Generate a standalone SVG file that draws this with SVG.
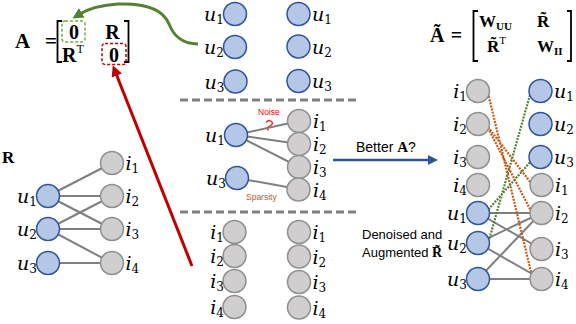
<svg xmlns="http://www.w3.org/2000/svg" width="576" height="324" viewBox="0 0 576 324">
<style>
.u{fill:#b4c7e7;stroke:#2f5597;stroke-width:1.5}
.it{fill:#d0cece;stroke:#8f8f8f;stroke-width:1.5}
.m{font-family:"DejaVu Serif","Liberation Serif",serif;font-style:italic;font-size:19px;fill:#000}
.sub{font-size:12px;font-style:normal}
.bs{font-family:"Liberation Serif",serif;font-weight:bold;fill:#000}
.e{stroke:#7f7f7f;stroke-width:2;fill:none}
.sep{stroke:#7f7f7f;stroke-width:3;stroke-dasharray:8 4;fill:none}
.od{stroke:#c55a11;stroke-width:2.2;stroke-dasharray:2 1.2;fill:none}
.gd{stroke:#548235;stroke-width:2.2;stroke-dasharray:2 1.2;fill:none}
.sans{font-family:"Liberation Sans",Arial,sans-serif;fill:#000}
.br{stroke:#000;stroke-width:1.8;fill:none}
</style>
<defs>
<marker id="ag" viewBox="0 0 10 10" refX="3" refY="5" markerWidth="11" markerHeight="11" markerUnits="userSpaceOnUse" orient="auto"><path d="M0,0 L10,5 L0,10 z" fill="#548235"/></marker>
<marker id="ar" viewBox="0 0 10 10" refX="3" refY="5" markerWidth="11" markerHeight="11" markerUnits="userSpaceOnUse" orient="auto"><path d="M0,0 L10,5 L0,10 z" fill="#c00000"/></marker>
<marker id="ab" viewBox="0 0 10 10" refX="3" refY="5" markerWidth="10" markerHeight="10" markerUnits="userSpaceOnUse" orient="auto"><path d="M0,0 L10,5 L0,10 z" fill="#2f5597"/></marker>
</defs>

<!-- Matrix A -->
<g id="matrixA">
<text class="bs" x="15" y="48" font-size="21">A</text>
<text class="bs" x="51" y="48" font-size="21" text-anchor="middle">=</text>
<path class="br" d="M62,21 H57.5 V62 H62"/>
<path class="br" d="M124,21 H128.5 V62 H124"/>
<text class="bs" x="74" y="39" font-size="20" text-anchor="middle">0</text>
<text class="bs" x="112.5" y="39" font-size="20" text-anchor="middle">R</text>
<text class="bs" x="62" y="61.5" font-size="20">R<tspan font-size="12" font-weight="normal" dy="-9">T</tspan></text>
<text class="bs" x="114" y="61.5" font-size="20" text-anchor="middle">0</text>
<rect x="62" y="21" width="23" height="21" rx="3" fill="none" stroke="#70ad47" stroke-width="1.5" stroke-dasharray="3 2"/>
<rect x="102" y="43.5" width="24" height="21" rx="3" fill="none" stroke="#c00000" stroke-width="1.5" stroke-dasharray="3 2"/>
</g>

<!-- Matrix A tilde -->
<g id="matrixAt">
<text class="bs" x="430" y="42" font-size="20">Ã</text>
<text class="bs" x="456.5" y="42" font-size="20" text-anchor="middle">=</text>
<path class="br" d="M478,11 H473.5 V61 H478"/>
<path class="br" d="M567,11 H571 V61 H567"/>
<text class="bs" x="479" y="27" font-size="17">W<tspan font-size="11" dy="3">UU</tspan></text>
<text class="bs" x="537" y="27" font-size="17">R̃</text>
<text class="bs" x="487" y="52" font-size="17">R̃<tspan font-size="11" font-weight="normal" dy="-8">T</tspan></text>
<text class="bs" x="537" y="52" font-size="17">W<tspan font-size="11" dy="3">II</tspan></text>
</g>

<text class="bs" x="2" y="163" font-size="17">R</text>

<!-- connectors -->
<g id="connectors">
<path class="sep" d="M180,100 H356"/>
<path class="sep" d="M180,212 H356"/>
<path class="e" d="M48,196 L112,163 M48,196 L112,196 M48,196 L112,229 M48,229 L112,196 M48,229 L112,229 M48,229 L112,263 M48,263 L112,263"/>
<path class="e" d="M236,135 L299,121 M236,135 L299,144 M236,135 L299,167 M237,178 L298,189"/>
<path class="e" d="M478,213 L541,213 M478,213 L541,249 M478,243 L541,213 M478,243 L541,279 M478,279 L541,213 M478,279 L541,279"/>
<path class="od" d="M488,93 L532,276 M488,127 L531,183 M488,128 L531,211"/>
<path class="gd" d="M530,95 L489,240 M532,160 L488,210"/>
<path d="M198,44 C180,44 173,34 169,24 C163,9 145,3 118,4 C100,5 88,9 79,14.5" fill="none" stroke="#548235" stroke-width="3" marker-end="url(#ag)"/>
<path d="M192,266 L115.6,72.5" fill="none" stroke="#c00000" stroke-width="3" marker-end="url(#ar)"/>
<path d="M333,160 L431,160" fill="none" stroke="#2f5597" stroke-width="2.5" marker-end="url(#ab)"/>
</g>

<!-- top middle users -->
<g id="tl_u1"><circle class="u" cx="235" cy="14" r="11.5"/><text class="m" x="224" y="21" text-anchor="end">u<tspan class="sub" dy="3">1</tspan></text></g>
<g id="tl_u2"><circle class="u" cx="235" cy="47" r="11.5"/><text class="m" x="224" y="54" text-anchor="end">u<tspan class="sub" dy="3">2</tspan></text></g>
<g id="tl_u3"><circle class="u" cx="235.5" cy="81.5" r="11.5"/><text class="m" x="224.5" y="88.5" text-anchor="end">u<tspan class="sub" dy="3">3</tspan></text></g>
<g id="tr_u1"><circle class="u" cx="298.5" cy="14" r="11.5"/><text class="m" x="312" y="21">u<tspan class="sub" dy="3">1</tspan></text></g>
<g id="tr_u2"><circle class="u" cx="298.5" cy="46.5" r="11.5"/><text class="m" x="312" y="53.5">u<tspan class="sub" dy="3">2</tspan></text></g>
<g id="tr_u3"><circle class="u" cx="298.5" cy="81" r="11.5"/><text class="m" x="312" y="88">u<tspan class="sub" dy="3">3</tspan></text></g>

<!-- middle graph -->
<g id="m_u1"><circle class="u" cx="236" cy="135" r="11.5"/><text class="m" x="225" y="142" text-anchor="end">u<tspan class="sub" dy="3">1</tspan></text></g>
<g id="m_u3"><circle class="u" cx="237" cy="178" r="11.5"/><text class="m" x="226" y="185" text-anchor="end">u<tspan class="sub" dy="3">3</tspan></text></g>
<g id="m_i1"><circle class="it" cx="299" cy="121" r="11.5"/><text class="m" x="313" y="128">i<tspan class="sub" dy="3">1</tspan></text></g>
<g id="m_i2"><circle class="it" cx="299" cy="144" r="11.5"/><text class="m" x="313" y="151">i<tspan class="sub" dy="3">2</tspan></text></g>
<g id="m_i3"><circle class="it" cx="299" cy="167" r="11.5"/><text class="m" x="313" y="174">i<tspan class="sub" dy="3">3</tspan></text></g>
<g id="m_i4"><circle class="it" cx="298.5" cy="189.5" r="11.5"/><text class="m" x="313" y="196.5">i<tspan class="sub" dy="3">4</tspan></text></g>
<g id="noise"><text class="sans" x="258" y="114.5" font-size="8.5" style="fill:#ff0000">Noise</text><text class="sans" x="265" y="130.5" font-size="15" style="fill:#ff0000" transform="rotate(10 269 125)">?</text></g>
<g id="sparsity"><text class="sans" x="246" y="200" font-size="8.5" style="fill:#c55a11">Sparsity</text></g>

<!-- bottom middle items -->
<g id="bl_i1"><circle class="it" cx="234.5" cy="232" r="11.5"/><text class="m" x="224" y="239" text-anchor="end">i<tspan class="sub" dy="3">1</tspan></text></g>
<g id="bl_i2"><circle class="it" cx="234.5" cy="256" r="11.5"/><text class="m" x="224" y="263" text-anchor="end">i<tspan class="sub" dy="3">2</tspan></text></g>
<g id="bl_i3"><circle class="it" cx="234.5" cy="281" r="11.5"/><text class="m" x="224" y="288" text-anchor="end">i<tspan class="sub" dy="3">3</tspan></text></g>
<g id="bl_i4"><circle class="it" cx="234.5" cy="307" r="11.5"/><text class="m" x="224" y="314" text-anchor="end">i<tspan class="sub" dy="3">4</tspan></text></g>
<g id="br_i1"><circle class="it" cx="299" cy="232" r="11.5"/><text class="m" x="312.5" y="239">i<tspan class="sub" dy="3">1</tspan></text></g>
<g id="br_i2"><circle class="it" cx="299" cy="256.5" r="11.5"/><text class="m" x="312.5" y="263.5">i<tspan class="sub" dy="3">2</tspan></text></g>
<g id="br_i3"><circle class="it" cx="299" cy="282" r="11.5"/><text class="m" x="312.5" y="289">i<tspan class="sub" dy="3">3</tspan></text></g>
<g id="br_i4"><circle class="it" cx="299" cy="307.5" r="11.5"/><text class="m" x="312.5" y="314.5">i<tspan class="sub" dy="3">4</tspan></text></g>

<!-- R graph -->
<g id="r_u1"><circle class="u" cx="48" cy="196" r="11.5"/><text class="m" x="37" y="203" text-anchor="end">u<tspan class="sub" dy="3">1</tspan></text></g>
<g id="r_u2"><circle class="u" cx="48" cy="229" r="11.5"/><text class="m" x="37" y="236" text-anchor="end">u<tspan class="sub" dy="3">2</tspan></text></g>
<g id="r_u3"><circle class="u" cx="48" cy="263" r="11.5"/><text class="m" x="37" y="270" text-anchor="end">u<tspan class="sub" dy="3">3</tspan></text></g>
<g id="r_i1"><circle class="it" cx="112" cy="163" r="11.5"/><text class="m" x="125.5" y="170">i<tspan class="sub" dy="3">1</tspan></text></g>
<g id="r_i2"><circle class="it" cx="112" cy="196" r="11.5"/><text class="m" x="125.5" y="203">i<tspan class="sub" dy="3">2</tspan></text></g>
<g id="r_i3"><circle class="it" cx="112" cy="229" r="11.5"/><text class="m" x="125.5" y="236">i<tspan class="sub" dy="3">3</tspan></text></g>
<g id="r_i4"><circle class="it" cx="112" cy="263" r="11.5"/><text class="m" x="125.5" y="270">i<tspan class="sub" dy="3">4</tspan></text></g>

<!-- right graph -->
<g id="g_i1L"><circle class="it" cx="478" cy="91" r="11.5"/><text class="m" x="467" y="98" text-anchor="end">i<tspan class="sub" dy="3">1</tspan></text></g>
<g id="g_i2L"><circle class="it" cx="478" cy="124" r="11.5"/><text class="m" x="467" y="131" text-anchor="end">i<tspan class="sub" dy="3">2</tspan></text></g>
<g id="g_i3L"><circle class="it" cx="478" cy="157" r="11.5"/><text class="m" x="467" y="164" text-anchor="end">i<tspan class="sub" dy="3">3</tspan></text></g>
<g id="g_i4L"><circle class="it" cx="478" cy="185" r="11.5"/><text class="m" x="467" y="192" text-anchor="end">i<tspan class="sub" dy="3">4</tspan></text></g>
<g id="g_u1L"><circle class="u" cx="478" cy="213" r="11.5"/><text class="m" x="467" y="220" text-anchor="end">u<tspan class="sub" dy="3">1</tspan></text></g>
<g id="g_u2L"><circle class="u" cx="478" cy="243" r="11.5"/><text class="m" x="467" y="250" text-anchor="end">u<tspan class="sub" dy="3">2</tspan></text></g>
<g id="g_u3L"><circle class="u" cx="478" cy="279" r="11.5"/><text class="m" x="467" y="286" text-anchor="end">u<tspan class="sub" dy="3">3</tspan></text></g>
<g id="g_u1R"><circle class="u" cx="540.5" cy="91" r="11.5"/><text class="m" x="554" y="98">u<tspan class="sub" dy="3">1</tspan></text></g>
<g id="g_u2R"><circle class="u" cx="540.5" cy="124" r="11.5"/><text class="m" x="554" y="131">u<tspan class="sub" dy="3">2</tspan></text></g>
<g id="g_u3R"><circle class="u" cx="540.5" cy="157" r="11.5"/><text class="m" x="554" y="164">u<tspan class="sub" dy="3">3</tspan></text></g>
<g id="g_i1R"><circle class="it" cx="541.5" cy="185" r="11.5"/><text class="m" x="555" y="192">i<tspan class="sub" dy="3">1</tspan></text></g>
<g id="g_i2R"><circle class="it" cx="541.5" cy="213" r="11.5"/><text class="m" x="555" y="220">i<tspan class="sub" dy="3">2</tspan></text></g>
<g id="g_i3R"><circle class="it" cx="541.5" cy="249" r="11.5"/><text class="m" x="555" y="256">i<tspan class="sub" dy="3">3</tspan></text></g>
<g id="g_i4R"><circle class="it" cx="541.5" cy="279" r="11.5"/><text class="m" x="555" y="286">i<tspan class="sub" dy="3">4</tspan></text></g>

<!-- labels -->
<g id="better"><text class="sans" x="356" y="152" font-size="14">Better <tspan class="bs" font-size="15">A</tspan>?</text></g>
<g id="denoised"><text class="sans" x="362" y="239" font-size="13">Denoised and</text><text class="sans" x="362" y="257" font-size="13">Augmented <tspan class="bs" font-size="14">R̃</tspan></text></g>
</svg>
